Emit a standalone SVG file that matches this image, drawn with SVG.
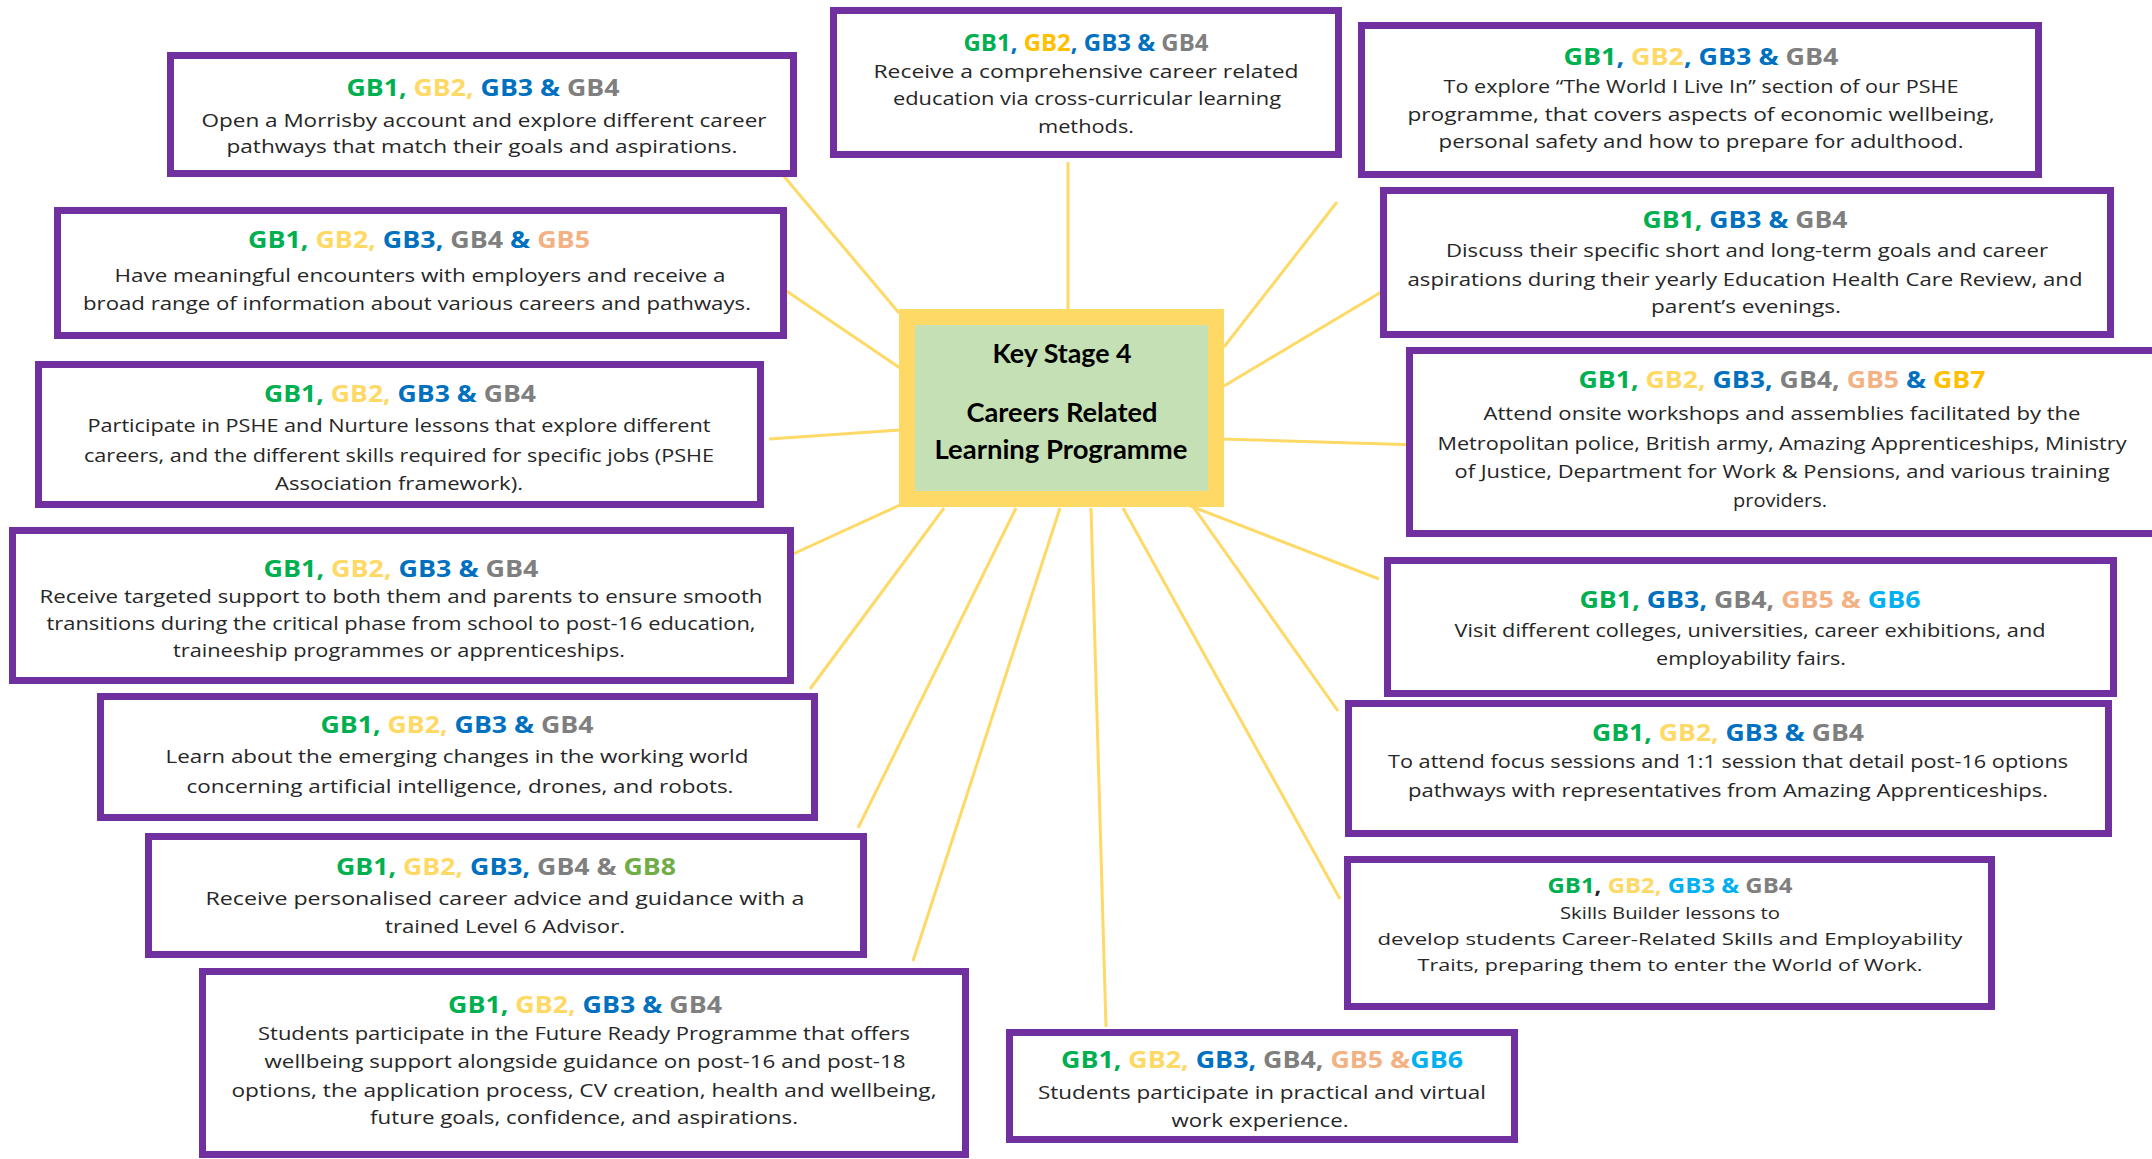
<svg xmlns="http://www.w3.org/2000/svg" width="2152" height="1159" viewBox="0 0 2152 1159">
<style>
.box{fill:#fff;stroke:#7030a0;stroke-width:7}
.h{font-family:"Open Sans","Liberation Sans",sans-serif;font-weight:bold;font-size:24px;text-anchor:middle}
.b{font-family:"Open Sans","Liberation Sans",sans-serif;font-size:19px;fill:#262626;text-anchor:middle}
.s{font-size:17px}
.hs{font-size:22px}
.k{font-family:Lato,"Liberation Sans",sans-serif;font-weight:bold;font-size:26px;fill:#000;text-anchor:middle}
.c1{fill:#00b050}.c2{fill:#ffd966}.c3{fill:#0070c0}.c4{fill:#7f7f7f}.c5{fill:#f4b183}.c6{fill:#00b0f0}.c7{fill:#ffc000}.c8{fill:#70ad47}.c0{fill:#262626}
.con line{stroke:#ffd966;stroke-width:3}
</style>
<rect width="2152" height="1159" fill="#fff"/>
<g id="connectors" class="con">
<line x1="899" y1="313" x2="782" y2="174"/>
<line x1="1068" y1="310" x2="1068" y2="162"/>
<line x1="1224" y1="347" x2="1337" y2="202"/>
<line x1="1224" y1="386" x2="1383" y2="291"/>
<line x1="1221" y1="439" x2="1420" y2="445"/>
<line x1="1188" y1="505" x2="1379" y2="579"/>
<line x1="1194" y1="508" x2="1338" y2="711"/>
<line x1="1123" y1="508" x2="1340" y2="899"/>
<line x1="1091" y1="508" x2="1106" y2="1027"/>
<line x1="1060" y1="508" x2="913" y2="961"/>
<line x1="1016" y1="508" x2="858" y2="828"/>
<line x1="944" y1="508" x2="810" y2="689"/>
<line x1="900" y1="505" x2="793" y2="554"/>
<line x1="900" y1="430" x2="769" y2="439"/>
<line x1="900" y1="368" x2="785" y2="290"/>
</g>
<g id="center">
<rect x="899" y="309" width="325" height="198" fill="#ffd966"/>
<rect x="915" y="325" width="293" height="166" fill="#c5e0b4"/>
<text class="k" x="1062" y="363" textLength="139" lengthAdjust="spacingAndGlyphs">Key Stage 4</text>
<text class="k" x="1062" y="422" textLength="191" lengthAdjust="spacingAndGlyphs">Careers Related</text>
<text class="k" x="1061" y="459" textLength="253" lengthAdjust="spacingAndGlyphs">Learning Programme</text>
</g>
<g id="nodeA">
<rect class="box" x="170.5" y="55.5" width="623" height="118"/>
<text class="h" x="483" y="96" textLength="273" lengthAdjust="spacingAndGlyphs"><tspan class="c1">GB1,</tspan><tspan class="c2"> GB2,</tspan><tspan class="c3"> GB3 &amp;</tspan><tspan class="c4"> GB4</tspan></text>
<text class="b" x="484" y="127" textLength="565" lengthAdjust="spacingAndGlyphs">Open a Morrisby account and explore different career</text>
<text class="b" x="482" y="153" textLength="511" lengthAdjust="spacingAndGlyphs">pathways that match their goals and aspirations.</text>
</g>
<g id="nodeB">
<rect class="box" x="833.5" y="10.5" width="505" height="144"/>
<text class="h" x="1086" y="51" textLength="245" lengthAdjust="spacingAndGlyphs"><tspan class="c1">GB1</tspan><tspan class="c3">, </tspan><tspan class="c7">GB2</tspan><tspan class="c3">, GB3 &amp;</tspan><tspan class="c4"> GB4</tspan></text>
<text class="b" x="1086" y="78" textLength="425" lengthAdjust="spacingAndGlyphs">Receive a comprehensive career related</text>
<text class="b" x="1087" y="105" textLength="388" lengthAdjust="spacingAndGlyphs">education via cross-curricular learning</text>
<text class="b" x="1086" y="133" textLength="96" lengthAdjust="spacingAndGlyphs">methods.</text>
</g>
<g id="nodeC">
<rect class="box" x="1361.5" y="25.5" width="677" height="149"/>
<text class="h" x="1701" y="65" textLength="275" lengthAdjust="spacingAndGlyphs"><tspan class="c1">GB1</tspan><tspan class="c3">, </tspan><tspan class="c2">GB2</tspan><tspan class="c3">, GB3 &amp;</tspan><tspan class="c4"> GB4</tspan></text>
<text class="b" x="1701" y="93" textLength="515" lengthAdjust="spacingAndGlyphs">To explore “The World I Live In” section of our PSHE</text>
<text class="b" x="1701" y="121" textLength="587" lengthAdjust="spacingAndGlyphs">programme, that covers aspects of economic wellbeing,</text>
<text class="b" x="1701" y="148" textLength="525" lengthAdjust="spacingAndGlyphs">personal safety and how to prepare for adulthood.</text>
</g>
<g id="nodeD">
<rect class="box" x="57.5" y="210.5" width="726" height="125"/>
<text class="h" x="419" y="248" textLength="342" lengthAdjust="spacingAndGlyphs"><tspan class="c1">GB1,</tspan><tspan class="c2"> GB2,</tspan><tspan class="c3"> GB3,</tspan><tspan class="c4"> GB4</tspan><tspan class="c3"> &amp;</tspan><tspan class="c5"> GB5</tspan></text>
<text class="b" x="420" y="282" textLength="611" lengthAdjust="spacingAndGlyphs">Have meaningful encounters with employers and receive a</text>
<text class="b" x="417" y="310" textLength="668" lengthAdjust="spacingAndGlyphs">broad range of information about various careers and pathways.</text>
</g>
<g id="nodeE">
<rect class="box" x="38.5" y="364.5" width="722" height="140"/>
<text class="h" x="400" y="402" textLength="272" lengthAdjust="spacingAndGlyphs"><tspan class="c1">GB1,</tspan><tspan class="c2"> GB2,</tspan><tspan class="c3"> GB3 &amp;</tspan><tspan class="c4"> GB4</tspan></text>
<text class="b" x="399" y="432" textLength="623" lengthAdjust="spacingAndGlyphs">Participate in PSHE and Nurture lessons that explore different</text>
<text class="b" x="399" y="462" textLength="630" lengthAdjust="spacingAndGlyphs">careers, and the different skills required for specific jobs (PSHE</text>
<text class="b" x="399" y="490" textLength="248" lengthAdjust="spacingAndGlyphs">Association framework).</text>
</g>
<g id="nodeF">
<rect class="box" x="12.5" y="530.5" width="778" height="150"/>
<text class="h" x="401" y="577" textLength="275" lengthAdjust="spacingAndGlyphs"><tspan class="c1">GB1,</tspan><tspan class="c2"> GB2,</tspan><tspan class="c3"> GB3 &amp;</tspan><tspan class="c4"> GB4</tspan></text>
<text class="b" x="401" y="603" textLength="723" lengthAdjust="spacingAndGlyphs">Receive targeted support to both them and parents to ensure smooth</text>
<text class="b" x="401" y="630" textLength="709" lengthAdjust="spacingAndGlyphs">transitions during the critical phase from school to post-16 education,</text>
<text class="b" x="399" y="657" textLength="452" lengthAdjust="spacingAndGlyphs">traineeship programmes or apprenticeships.</text>
</g>
<g id="nodeG">
<rect class="box" x="100.5" y="696.5" width="714" height="121"/>
<text class="h" x="457" y="733" textLength="273" lengthAdjust="spacingAndGlyphs"><tspan class="c1">GB1,</tspan><tspan class="c2"> GB2,</tspan><tspan class="c3"> GB3 &amp;</tspan><tspan class="c4"> GB4</tspan></text>
<text class="b" x="457" y="763" textLength="583" lengthAdjust="spacingAndGlyphs">Learn about the emerging changes in the working world</text>
<text class="b" x="460" y="793" textLength="547" lengthAdjust="spacingAndGlyphs">concerning artificial intelligence, drones, and robots.</text>
</g>
<g id="nodeH">
<rect class="box" x="148.5" y="836.5" width="715" height="118"/>
<text class="h" x="506" y="875" textLength="340" lengthAdjust="spacingAndGlyphs"><tspan class="c1">GB1,</tspan><tspan class="c2"> GB2,</tspan><tspan class="c3"> GB3,</tspan><tspan class="c4"> GB4 &amp;</tspan><tspan class="c8"> GB8</tspan></text>
<text class="b" x="505" y="905" textLength="599" lengthAdjust="spacingAndGlyphs">Receive personalised career advice and guidance with a</text>
<text class="b" x="505" y="933" textLength="240" lengthAdjust="spacingAndGlyphs">trained Level 6 Advisor.</text>
</g>
<g id="nodeI">
<rect class="box" x="202.5" y="971.5" width="763" height="183"/>
<text class="h" x="585" y="1013" textLength="274" lengthAdjust="spacingAndGlyphs"><tspan class="c1">GB1,</tspan><tspan class="c2"> GB2,</tspan><tspan class="c3"> GB3 &amp;</tspan><tspan class="c4"> GB4</tspan></text>
<text class="b" x="584" y="1040" textLength="652" lengthAdjust="spacingAndGlyphs">Students participate in the Future Ready Programme that offers</text>
<text class="b" x="585" y="1068" textLength="641" lengthAdjust="spacingAndGlyphs">wellbeing support alongside guidance on post-16 and post-18</text>
<text class="b" x="584" y="1097" textLength="705" lengthAdjust="spacingAndGlyphs">options, the application process, CV creation, health and wellbeing,</text>
<text class="b" x="584" y="1124" textLength="428" lengthAdjust="spacingAndGlyphs">future goals, confidence, and aspirations.</text>
</g>
<g id="nodeJ">
<rect class="box" x="1009.5" y="1032.5" width="505" height="107"/>
<text class="h" x="1262" y="1068" textLength="402" lengthAdjust="spacingAndGlyphs"><tspan class="c1">GB1,</tspan><tspan class="c2"> GB2,</tspan><tspan class="c3"> GB3,</tspan><tspan class="c4"> GB4,</tspan><tspan class="c5"> GB5 &amp;</tspan><tspan class="c6">GB6</tspan></text>
<text class="b" x="1262" y="1099" textLength="448" lengthAdjust="spacingAndGlyphs">Students participate in practical and virtual</text>
<text class="b" x="1260" y="1127" textLength="177" lengthAdjust="spacingAndGlyphs">work experience.</text>
</g>
<g id="nodeK">
<rect class="box" x="1383.5" y="190.5" width="727" height="144"/>
<text class="h" x="1745" y="228" textLength="205" lengthAdjust="spacingAndGlyphs"><tspan class="c1">GB1,</tspan><tspan class="c3"> GB3 &amp;</tspan><tspan class="c4"> GB4</tspan></text>
<text class="b" x="1747" y="257" textLength="602" lengthAdjust="spacingAndGlyphs">Discuss their specific short and long-term goals and career</text>
<text class="b" x="1745" y="286" textLength="675" lengthAdjust="spacingAndGlyphs">aspirations during their yearly Education Health Care Review, and</text>
<text class="b" x="1746" y="313" textLength="190" lengthAdjust="spacingAndGlyphs">parent’s evenings.</text>
</g>
<g id="nodeL">
<rect class="box" x="1409.5" y="350.5" width="747" height="183"/>
<text class="h" x="1782" y="388" textLength="407" lengthAdjust="spacingAndGlyphs"><tspan class="c1">GB1,</tspan><tspan class="c2"> GB2,</tspan><tspan class="c3"> GB3,</tspan><tspan class="c4"> GB4,</tspan><tspan class="c5"> GB5</tspan><tspan class="c3"> &amp;</tspan><tspan class="c7"> GB7</tspan></text>
<text class="b" x="1782" y="420" textLength="597" lengthAdjust="spacingAndGlyphs">Attend onsite workshops and assemblies facilitated by the</text>
<text class="b" x="1782" y="450" textLength="689" lengthAdjust="spacingAndGlyphs">Metropolitan police, British army, Amazing Apprenticeships, Ministry</text>
<text class="b" x="1782" y="478" textLength="655" lengthAdjust="spacingAndGlyphs">of Justice, Department for Work &amp; Pensions, and various training</text>
<text class="b" x="1780" y="507" textLength="94" lengthAdjust="spacingAndGlyphs">providers.</text>
</g>
<g id="nodeM">
<rect class="box" x="1387.5" y="560.5" width="726" height="133"/>
<text class="h" x="1750" y="608" textLength="341" lengthAdjust="spacingAndGlyphs"><tspan class="c1">GB1,</tspan><tspan class="c3"> GB3,</tspan><tspan class="c4"> GB4,</tspan><tspan class="c5"> GB5 &amp;</tspan><tspan class="c6"> GB6</tspan></text>
<text class="b" x="1750" y="637" textLength="591" lengthAdjust="spacingAndGlyphs">Visit different colleges, universities, career exhibitions, and</text>
<text class="b" x="1751" y="665" textLength="190" lengthAdjust="spacingAndGlyphs">employability fairs.</text>
</g>
<g id="nodeN">
<rect class="box" x="1348.5" y="703.5" width="760" height="130"/>
<text class="h" x="1728" y="741" textLength="272" lengthAdjust="spacingAndGlyphs"><tspan class="c1">GB1,</tspan><tspan class="c2"> GB2,</tspan><tspan class="c3"> GB3 &amp;</tspan><tspan class="c4"> GB4</tspan></text>
<text class="b" x="1728" y="768" textLength="680" lengthAdjust="spacingAndGlyphs">To attend focus sessions and 1:1 session that detail post-16 options</text>
<text class="b" x="1728" y="797" textLength="640" lengthAdjust="spacingAndGlyphs">pathways with representatives from Amazing Apprenticeships.</text>
</g>
<g id="nodeO">
<rect class="box" x="1347.5" y="859.5" width="644" height="147"/>
<text class="h hs" x="1670" y="893" textLength="245" lengthAdjust="spacingAndGlyphs"><tspan class="c1">GB1</tspan><tspan class="c0">,</tspan><tspan class="c2"> GB2,</tspan><tspan class="c6"> GB3 &amp;</tspan><tspan class="c4"> GB4</tspan></text>
<text class="b s" x="1670" y="919" textLength="220" lengthAdjust="spacingAndGlyphs">Skills Builder lessons to</text>
<text class="b s" x="1670" y="945" textLength="585" lengthAdjust="spacingAndGlyphs">develop students Career-Related Skills and Employability</text>
<text class="b s" x="1670" y="971" textLength="505" lengthAdjust="spacingAndGlyphs">Traits, preparing them to enter the World of Work.</text>
</g>
</svg>
